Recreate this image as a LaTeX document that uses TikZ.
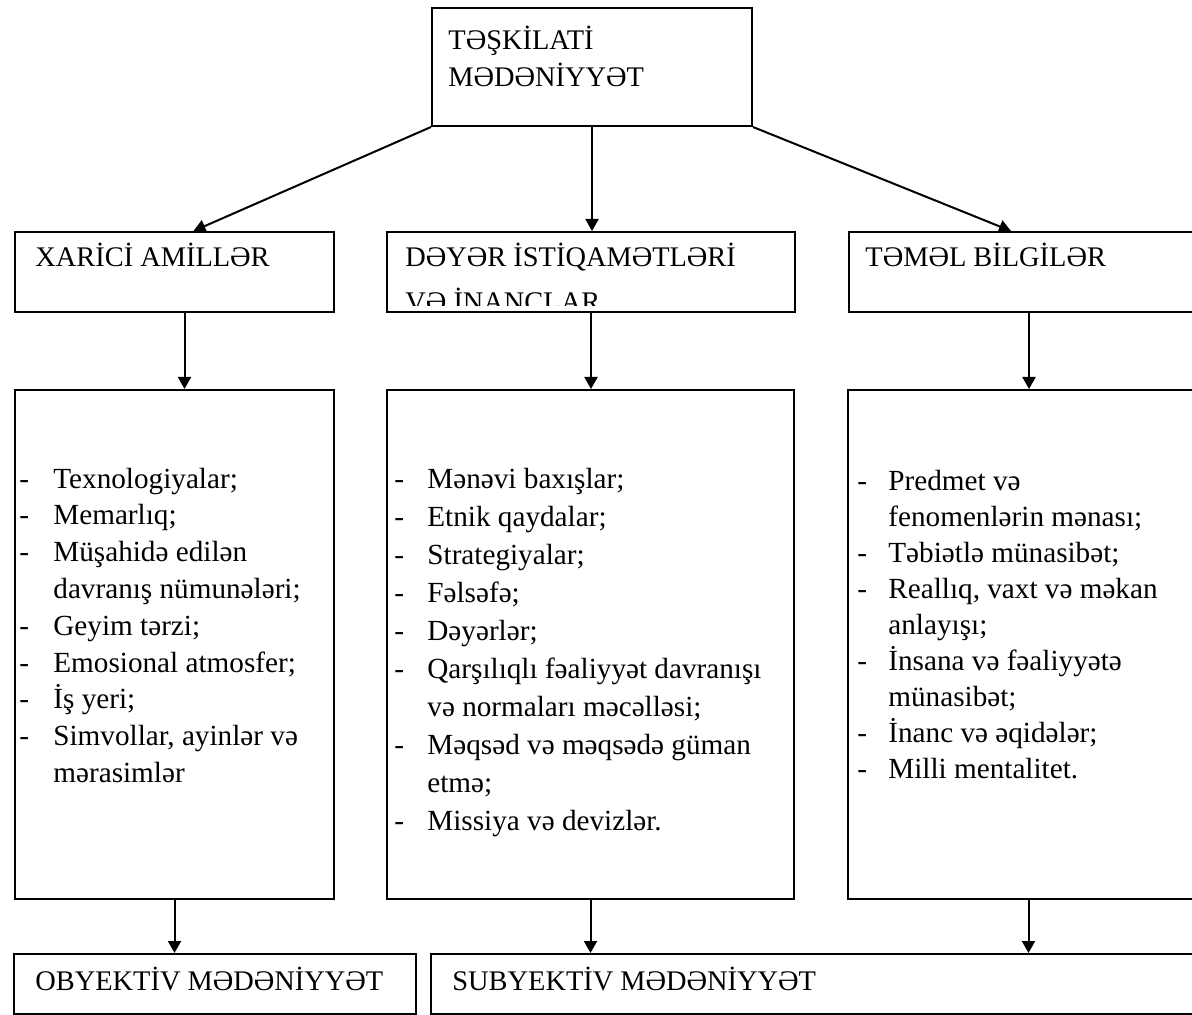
\documentclass[tikz,border=0pt]{standalone}
\usepackage{fontspec}
\setmainfont{Liberation Serif}
\usetikzlibrary{arrows.meta}

\tikzset{
box/.style={draw, line width=1pt, anchor=north west, inner sep=0pt},
txt/.style={anchor=base west, inner sep=0pt, font=\fontsize{14.2}{18.5}\selectfont},
listtxt/.style={txt, font=\fontsize{14.6}{#1}\selectfont},
arr/.style={line width=1pt, -{Triangle[length=6pt,width=6.5pt]}}
}

\begin{document}
\begin{tikzpicture}[x=0.5pt, y=-0.5pt]
\useasboundingbox (0,0) rectangle (1192,1015);

\node[box, minimum width=160pt, minimum height=59pt](top) at (431,7) {};
\node[box, minimum width=159.5pt, minimum height=40pt](xarici) at (14,231) {};
\node[box, minimum width=204pt, minimum height=40pt](deyer) at (386,231) {};
\node[box, minimum width=176pt, minimum height=40pt](temel) at (848,231) {};
\node[box, minimum width=159.5pt, minimum height=254.5pt](xlist) at (14,389) {};
\node[box, minimum width=203.5pt, minimum height=254.5pt](dlist) at (386,389) {};
\node[box, minimum width=176.5pt, minimum height=254.5pt](tlist) at (847,389) {};
\node[box, minimum width=201pt, minimum height=30pt](obyektiv) at (13,953) {};
\node[box, minimum width=385pt, minimum height=30pt](subyektiv) at (430,953) {};

\node[txt](toptext) at (448,50) {\begin{tabular}[t]{@{}l@{}}
TƏŞKİLATİ \\ MƏDƏNİYYƏT
\end{tabular}};
\node[txt](xaricitext) at (35,267) {XARİCİ AMİLLƏR};
\begin{scope}
\clip (388,233) rectangle (792,306);
\node[txt](deyertext) at (405,267) {\begin{tabular}[t]{@{}l@{}}
DƏYƏR İSTİQAMƏTLƏRİ \\[4pt] VƏ İNANCLAR
\end{tabular}};
\end{scope}
\node[txt](temeltext) at (865,267) {TƏMƏL BİLGİLƏR};

\node[listtxt=18.4](xlisttext) at (19,488) {\begin{tabular}[t]{@{}p{17pt}@{}l@{}}
- & Texnologiyalar; \\
- & Memarlıq; \\
- & Müşahidə edilən \\
  & davranış nümunələri; \\
- & Geyim tərzi; \\
- & Emosional atmosfer; \\
- & İş yeri; \\
- & Simvollar, ayinlər və \\
  & mərasimlər
\end{tabular}};

\node[listtxt=19](dlisttext) at (394,488) {\begin{tabular}[t]{@{}p{16.5pt}@{}l@{}}
- & Mənəvi baxışlar; \\
- & Etnik qaydalar; \\
- & Strategiyalar; \\
- & Fəlsəfə; \\
- & Dəyərlər; \\
- & Qarşılıqlı fəaliyyət davranışı \\
  & və normaları məcəlləsi; \\
- & Məqsəd və məqsədə güman \\
  & etmə; \\
- & Missiya və devizlər.
\end{tabular}};

\node[listtxt=18](tlisttext) at (857,490) {\begin{tabular}[t]{@{}p{15.5pt}@{}l@{}}
- & Predmet və \\
  & fenomenlərin mənası; \\
- & Təbiətlə münasibət; \\
- & Reallıq, vaxt və məkan \\
  & anlayışı; \\
- & İnsana və fəaliyyətə \\
  & münasibət; \\
- & İnanc və əqidələr; \\
- & Milli mentalitet.
\end{tabular}};

\node[txt](obyektivtext) at (35,990) {OBYEKTİV MƏDƏNİYYƏT};
\node[txt](subyektivtext) at (452,990) {SUBYEKTİV MƏDƏNİYYƏT};

\draw[arr] (top.south west) -- ([xshift=9.5pt]xarici.north);
\draw[arr] (top.south) -- (top.south |- deyer.north);
\draw[arr] (top.south east) -- ([xshift=-7pt]temel.north);
\draw[arr] ([xshift=5pt]xarici.south) -- ([xshift=5pt]xarici.south |- xlist.north);
\draw[arr] (deyer.south) -- (deyer.south |- dlist.north);
\draw[arr] ([xshift=2pt]temel.south) -- ([xshift=2pt]temel.south |- tlist.north);
\draw[arr] (xlist.south) -- (xlist.south |- obyektiv.north);
\draw[arr] (dlist.south) -- (dlist.south |- subyektiv.north);
\draw[arr] ([xshift=2pt]tlist.south) -- ([xshift=2pt]tlist.south |- subyektiv.north);
\end{tikzpicture}
\end{document}
